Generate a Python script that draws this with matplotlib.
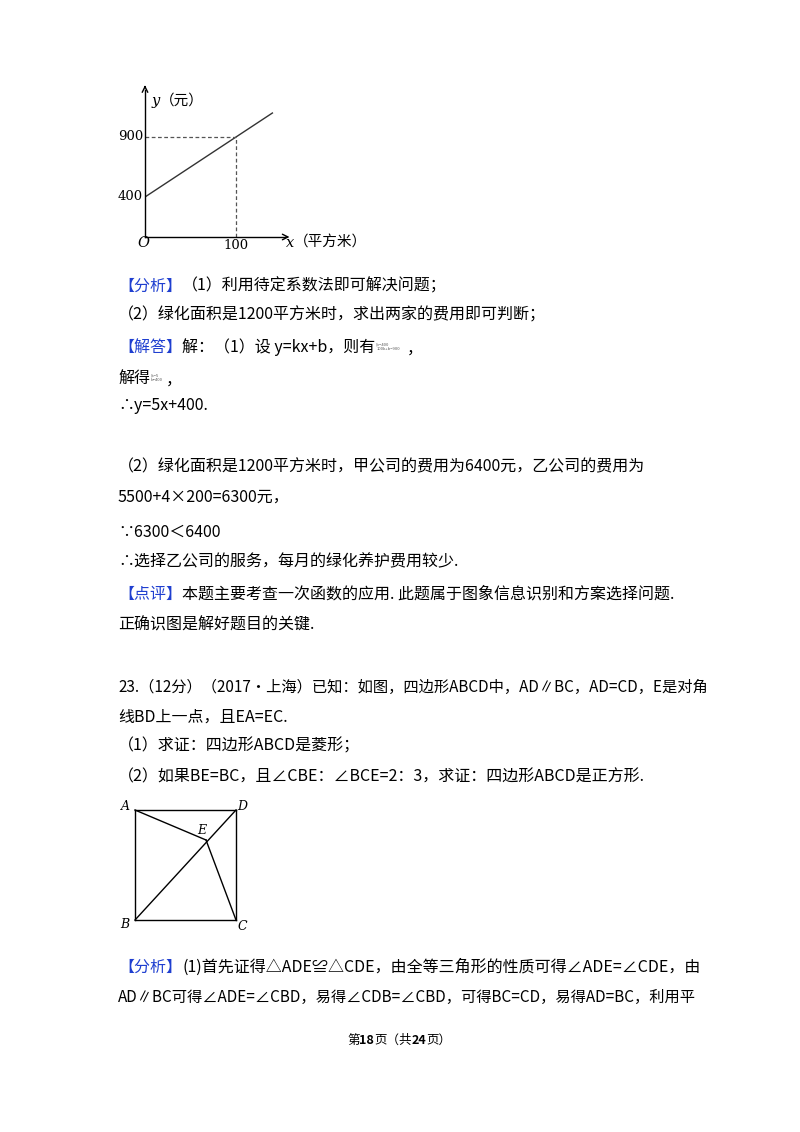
import numpy as np
import matplotlib.pyplot as plt

plt.rcParams['font.family'] = ['Noto Sans CJK SC', 'DejaVu Sans']

# chart data
line_x = [0, 100, 140]
line_y = [400, 900, 1100]
guide_x = 100
guide_y = 900
yticks = [400, 900]
xticks = [100]

# square diagram points (page pixels)
pts = {'A': (135, 810), 'D': (236, 810), 'B': (135, 920), 'C': (236, 920), 'E': (206, 840)}
segs = [('A', 'D'), ('D', 'C'), ('C', 'B'), ('B', 'A'), ('A', 'E'), ('E', 'C'), ('B', 'D')]

W, H = 800, 1132
fig = plt.figure(figsize=(8, 11.32), dpi=100)
page = fig.add_axes([0, 0, 1, 1])
page.set_xlim(0, W)
page.set_ylim(H, 0)
page.axis('off')

BLUE = '#1f3fd0'
FS = 11.5
renderer = fig.canvas.get_renderer()


def line(y, parts, x=118, fs=FS):
    for txt, col, bold in parts:
        t = page.text(x, y, txt, color=col, fontsize=fs, va='center', ha='left',
                      fontweight='bold' if bold else 'normal')
        bb = t.get_window_extent(renderer)
        x += bb.width
    return x


K = 'black'
line(286, [('【分析】', BLUE, False), ('（1）利用待定系数法即可解决问题；', K, False)])
line(315, [('（2）绿化面积是1200平方米时，求出两家的费用即可判断；', K, False)])
xe = line(347, [('【解答】', BLUE, False), ('解：（1）设 y=kx+b，则有', K, False)])
page.text(xe + 1, 347, '{b=400\n100k+b=900', fontsize=3, va='center', color='#555555')
page.text(xe + 32, 349, '，', fontsize=FS, va='center')
xe = line(378, [('解得', K, False)])
page.text(xe + 1, 378, '{k=5\nb=400', fontsize=3, va='center', color='#555555')
page.text(xe + 16, 380, '，', fontsize=FS, va='center')
line(406, [('∴y=5x+400.', K, False)])
line(467, [('（2）绿化面积是1200平方米时，甲公司的费用为6400元，乙公司的费用为', K, False)])
line(497, [('5500+4×200=6300元，', K, False)])
line(532, [('∵6300＜6400', K, False)])
line(562, [('∴选择乙公司的服务，每月的绿化养护费用较少.', K, False)])
line(594, [('【点评】', BLUE, False), ('本题主要考查一次函数的应用. 此题属于图象信息识别和方案选择问题.', K, False)])
line(625, [('正确识图是解好题目的关键.', K, False)])
line(687, [('23.（12分）（2017•上海）已知：如图，四边形ABCD中，AD∥BC，AD=CD，E是对角', K, False)], fs=11)
line(717, [('线BD上一点，且EA=EC.', K, False)])
line(746, [('（1）求证：四边形ABCD是菱形；', K, False)])
line(777, [('（2）如果BE=BC，且∠CBE：∠BCE=2：3，求证：四边形ABCD是正方形.', K, False)])
line(967, [('【分析】', BLUE, False), ('(1)首先证得△ADE≌△CDE，由全等三角形的性质可得∠ADE=∠CDE，由', K, False)])
line(997, [('AD∥BC可得∠ADE=∠CBD，易得∠CDB=∠CBD，可得BC=CD，易得AD=BC，利用平', K, False)], fs=11)
line(1040, [('第', K, False), ('18', K, True), ('页（共', K, False), ('24', K, True), ('页）', K, False)], x=347, fs=9)

# square diagram
for a, b in segs:
    page.plot([pts[a][0], pts[b][0]], [pts[a][1], pts[b][1]], color='black', lw=1)
offs = {'A': (-10, -4), 'D': (6, -4), 'B': (-10, 4), 'C': (6, 6), 'E': (-4, -10)}
for k, (px, py) in pts.items():
    page.text(px + offs[k][0], py + offs[k][1], k, fontsize=9, style='italic',
              family='DejaVu Serif', ha='center', va='center')

# function chart
x0, x1 = 145, 285
yb, yt = 237, 90
ax = fig.add_axes([x0 / W, 1 - yb / H, (x1 - x0) / W, (yb - yt) / H])
ax.set_xlim(0, (x1 - x0) / 0.91)
ax.set_ylim(400 - 40 / 0.12, 400 + (yb - yt - 40) / 0.12)
ax.patch.set_alpha(0)
for s in ['top', 'right']:
    ax.spines[s].set_visible(False)
for s in ['left', 'bottom']:
    ax.spines[s].set_linewidth(1)
ax.set_xticks([])
ax.set_yticks([])
ax.plot(line_x, line_y, color='#333333', lw=1)
ax.plot([0, guide_x], [guide_y, guide_y], ls='--', color='#555555', lw=0.9, dashes=(3, 2))
ax.plot([guide_x, guide_x], [ax.get_ylim()[0], guide_y], ls='--', color='#555555', lw=0.9, dashes=(3, 2))
for v in yticks:
    ax.text(-2, v, str(v), ha='right', va='center', fontsize=9.5, family='DejaVu Serif')
for v in xticks:
    ax.text(v, ax.get_ylim()[0] - 20, str(v), ha='center', va='top', fontsize=9.5, family='DejaVu Serif')
ax.annotate('', xy=(0, ax.get_ylim()[1] + 40), xytext=(0, ax.get_ylim()[1] - 5),
            arrowprops=dict(arrowstyle='->', lw=1), annotation_clip=False)
ax.annotate('', xy=(ax.get_xlim()[1] + 8, ax.get_ylim()[0]), xytext=(ax.get_xlim()[1] - 2, ax.get_ylim()[0]),
            arrowprops=dict(arrowstyle='->', lw=1), annotation_clip=False)
page.text(143, 243, 'O', fontsize=10.5, style='italic', family='DejaVu Serif', ha='center', va='center')
page.text(152, 101, 'y', fontsize=10.5, style='italic', family='DejaVu Serif', va='center')
page.text(160, 101, '（元）', fontsize=10.5, va='center')
page.text(286, 243, 'x', fontsize=10.5, style='italic', family='DejaVu Serif', va='center')
page.text(294, 243, '（平方米）', fontsize=10.5, va='center')

fig.savefig('out.png', dpi=100, facecolor='white')
